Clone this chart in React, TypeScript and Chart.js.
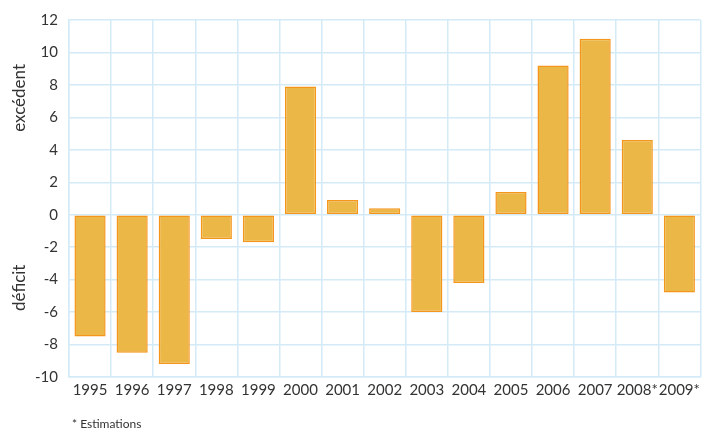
import React, { useEffect, useRef } from "react";
import { Chart, registerables } from "chart.js";

Chart.register(...registerables);

const years = ["1995", "1996", "1997", "1998", "1999", "2000", "2001", "2002", "2003", "2004", "2005", "2006", "2007", "2008*", "2009*"];
const balance = [-7.5, -8.5, -9.2, -1.5, -1.7, 7.9, 0.9, 0.4, -6.0, -4.2, 1.4, 9.2, 10.85, 4.6, -4.8];
const yTitleTop = "excédent";
const yTitleBottom = "déficit";
const footnote = "* Estimations";

const FONT = "Lato";
const TEXT = "#333333";
const GRID = "#d4ebf7";

const sidePlugin = {
  id: "sideText",
  afterDraw(chart: any) {
    const { ctx, scales } = chart;
    const y = scales.y;
    ctx.save();
    ctx.fillStyle = TEXT;
    ctx.font = `17px ${FONT}`;
    ctx.textAlign = "center";
    ctx.textBaseline = "middle";
    const drawRot = (t: string, cy: number) => {
      ctx.save();
      ctx.translate(20, cy);
      ctx.rotate(-Math.PI / 2);
      ctx.fillText(t, 0, 0);
      ctx.restore();
    };
    drawRot(yTitleTop, y.getPixelForValue(7.2));
    drawRot(yTitleBottom, y.getPixelForValue(-4.5));
    ctx.font = `12px ${FONT}`;
    ctx.textAlign = "left";
    ctx.fillText(footnote, 72, 424);
    ctx.restore();
  },
};

export default function App() {
  const ref = useRef<HTMLCanvasElement>(null);
  useEffect(() => {
    document.body.style.margin = "0";
    const chart = new Chart(ref.current!, {
      type: "bar",
      data: {
        labels: years,
        datasets: [
          {
            data: balance,
            backgroundColor: "#ebb847",
            borderColor: "#f5961c",
            borderWidth: 1.5,
            borderSkipped: false,
            barPercentage: 0.74,
            categoryPercentage: 1,
          },
        ],
      },
      options: {
        animation: false,
        responsive: false,
        maintainAspectRatio: false,
        layout: { padding: { top: 17, right: 2, left: 0, bottom: 0 } },
        plugins: { legend: { display: false }, tooltip: { enabled: false } },
        scales: {
          x: {
            grid: { color: GRID, lineWidth: 1.5, drawTicks: false, offset: true },
            border: { color: GRID, width: 1.5 },
            ticks: { color: TEXT, font: { family: FONT, size: 15 }, padding: 4, maxRotation: 0, autoSkip: false },
            afterFit: (s: any) => { s.height = 54; },
          },
          y: {
            min: -10,
            max: 12,
            grid: { color: GRID, lineWidth: 1.5, drawTicks: false },
            border: { color: GRID, width: 1.5 },
            ticks: { stepSize: 2, color: TEXT, font: { family: FONT, size: 15 }, padding: 11 },
            afterFit: (s: any) => { s.width = 69; },
          },
        },
      },
      plugins: [sidePlugin],
    });
    return () => chart.destroy();
  }, []);
  return (
    <div style={{ position: "absolute", left: 0, top: 0, width: 704, height: 431 }}>
      <canvas ref={ref} width={704} height={431} />
    </div>
  );
}
